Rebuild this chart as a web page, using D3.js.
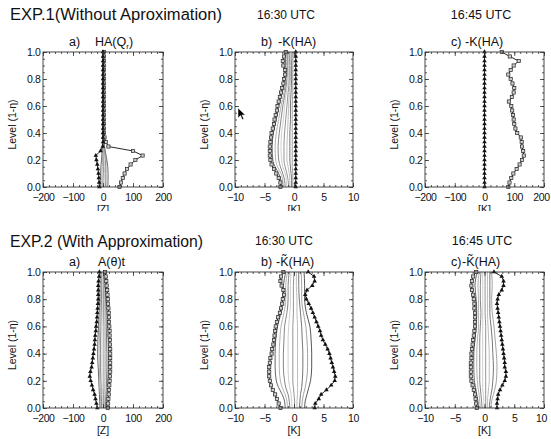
<!DOCTYPE html>
<html><head><meta charset="utf-8">
<script src="https://cdn.jsdelivr.net/npm/d3@7"></script>
<style>
body{margin:0;background:#fff}
svg{display:block}
text{font-family:"Liberation Sans",Arial,sans-serif;fill:#111}
</style>
</head><body>
<svg id="c" width="551" height="439"></svg>
<script>
// ---------- data ----------
const levels = [0.000,0.033,0.067,0.100,0.133,0.167,0.200,0.233,0.267,0.300,0.333,0.367,0.400,0.433,0.467,0.500,0.533,0.567,0.600,0.633,0.667,0.700,0.733,0.767,0.800,0.833,0.867,0.900,0.933,0.967,1.000];
const grayLevels = [0,0.05,0.1,0.15,0.2,0.3,0.4,0.5,0.6,0.7,0.8,0.9,1.0];
const yTicks = [0,0.2,0.4,0.6,0.8,1.0];
const xTicksZ = [-200,-100,0,100,200];
const xTicksK = [-10,-5,0,5,10];

// EXP.1 a) HA(Qr)
const a1Squares = [55,60,66,72,80,92,108,132,100,18,10,5,3,3,3,3,3,3,3,3,3,3,3,3,3,3,3,3,3,3,3];
const a1Triangles = [-12,-13,-14,-15,-17,-19,-22,-24,-8,-1,0,0,0,0,0,0,0,0,0,0,0,0,0,0,0,0,0,0,0,0,0];
const a1Gray = [
  [-8,-8,-8,-7,-5,-2,0,0,0,0,0,0,0],
  [-4,-4,-4,-3,-2,0,0,0,0,0,0,0,0],
  [0,0,1,1,1,1,0,0,0,0,0,0,0],
  [4,4,5,5,4,2,0,0,0,0,0,0,0],
  [8,9,9,9,8,3,1,0,0,0,0,0,0],
  [12,13,13,13,11,4,1,0,0,0,0,0,0],
  [16,17,17,16,13,5,1,0,0,0,0,0,0]
];
// EXP.1 b) -K(HA) 16:30
const b1Squares = [-2.3,-2.3,-2.6,-3.0,-3.4,-3.8,-4.0,-4.1,-4.1,-4.1,-4.0,-3.9,-3.8,-3.6,-3.4,-3.3,-3.1,-2.9,-2.8,-2.6,-2.4,-2.2,-2.0,-1.8,-1.7,-1.5,-1.5,-1.8,-1.9,-1.7,-1.4];
const b1Triangles = [0.3,0.3,0.3,0.3,0.3,0.3,0.3,0.3,0.3,0.3,0.3,0.3,0.3,0.3,0.3,0.3,0.3,0.3,0.3,0.3,0.3,0.3,0.3,0.3,0.3,0.3,0.3,0.3,0.3,0.3,0.3];
const b1Gray = [
  [-2.1,-2.2,-2.6,-3.2,-3.6,-3.7,-3.5,-3.0,-2.6,-2.0,-1.6,-1.5,-1.3],
  [-1.8,-1.9,-2.2,-2.8,-3.1,-3.2,-3.0,-2.6,-2.2,-1.7,-1.4,-1.3,-1.1],
  [-1.5,-1.6,-1.9,-2.3,-2.6,-2.7,-2.5,-2.2,-1.9,-1.5,-1.2,-1.1,-1.0],
  [-1.2,-1.3,-1.5,-1.9,-2.1,-2.2,-2.1,-1.8,-1.6,-1.3,-1.0,-1.0,-0.8],
  [-0.9,-1.0,-1.2,-1.5,-1.7,-1.7,-1.6,-1.4,-1.2,-1.0,-0.8,-0.8,-0.7],
  [-0.7,-0.7,-0.8,-1.0,-1.2,-1.2,-1.1,-1.0,-0.9,-0.8,-0.6,-0.6,-0.5],
  [-0.4,-0.4,-0.5,-0.6,-0.7,-0.7,-0.7,-0.6,-0.6,-0.5,-0.4,-0.4,-0.3],
  [-0.2,-0.2,-0.2,-0.3,-0.3,-0.3,-0.3,-0.3,-0.3,-0.2,-0.2,-0.2,-0.1]
];
// EXP.1 c) -K(HA) 16:45
const c1Squares = [80,84,90,97,108,118,126,132,130,126,125,122,110,104,100,98,96,93,90,82,92,98,100,94,88,80,88,98,115,85,58];
const c1Triangles = [0,0,0,0,0,0,0,0,0,0,0,0,0,0,0,0,0,0,0,0,0,0,0,0,0,0,0,0,0,0,0];
const c1Gray = [];
// EXP.2 a) A(theta)t
const a2Squares = [16,17,18,19,20,21,22,23,24,24,24,24,24,24,23,23,22,22,21,20,20,19,18,17,16,15,14,12,11,9,7];
const a2Triangles = [-19,-22,-25,-28,-33,-37,-41,-44,-42,-38,-36,-34,-32,-30,-28,-27,-26,-24,-23,-21,-20,-19,-18,-17,-16,-16,-16,-16,-15,-13,-12];
const a2Gray = [
  [-10,-11,-12,-13,-14,-16,-18,-17,-15,-13,-11,-10,-9],
  [-7,-8,-9,-10,-11,-12,-13,-12,-11,-10,-8,-7,-7],
  [-4,-5,-6,-6,-7,-8,-8,-8,-7,-6,-5,-4,-4],
  [-1,-2,-2,-2,-3,-3,-3,-3,-3,-2,-2,-1,-1],
  [2,2,2,3,3,3,3,3,3,2,2,2,2],
  [5,5,6,6,7,8,8,8,7,6,5,5,5],
  [8,9,10,11,12,13,13,12,11,10,9,8,8],
  [11,12,13,14,15,17,18,17,15,13,12,11,10]
];
// EXP.2 b) -K~(HA) 16:30
const b2Squares = [-2.3,-2.6,-2.9,-3.2,-3.6,-3.9,-4.1,-4.2,-4.2,-4.2,-4.1,-4.0,-3.8,-3.7,-3.5,-3.4,-3.3,-3.2,-3.1,-2.9,-2.7,-2.4,-2.2,-2.0,-1.9,-1.7,-1.8,-2.1,-2.3,-2.2,-1.8];
const b2Triangles = [3.5,3.6,4.2,4.6,5.5,6.3,6.9,7.0,6.8,6.6,6.4,6.2,6.0,5.7,5.3,4.9,4.6,4.4,4.1,3.8,3.5,3.2,2.9,2.5,2.1,1.9,2.2,3.1,3.5,3.4,2.4];
const b2Gray = [
  [-1.5,-1.6,-2.0,-2.6,-3.0,-3.2,-3.2,-3.1,-2.8,-2.2,-1.9,-1.8,-1.4],
  [-1.1,-1.2,-1.5,-2.0,-2.3,-2.5,-2.5,-2.4,-2.2,-1.7,-1.4,-1.4,-1.1],
  [-0.7,-0.8,-1.0,-1.4,-1.6,-1.8,-1.8,-1.7,-1.6,-1.2,-1.0,-1.0,-0.8],
  [-0.3,-0.4,-0.5,-0.7,-0.9,-1.0,-1.0,-1.0,-0.9,-0.7,-0.6,-0.6,-0.5],
  [0.1,0.1,0.0,-0.1,-0.2,-0.2,-0.2,-0.2,-0.2,-0.1,-0.1,-0.1,0.0],
  [0.5,0.5,0.6,0.6,0.6,0.6,0.6,0.6,0.6,0.5,0.5,0.4,0.4],
  [0.9,1.0,1.1,1.3,1.4,1.5,1.5,1.4,1.3,1.1,0.9,0.8,0.8],
  [1.3,1.4,1.6,1.9,2.1,2.3,2.3,2.2,2.0,1.6,1.3,1.3,1.2],
  [1.8,1.9,2.2,2.5,2.8,3.0,3.0,2.9,2.7,2.1,1.8,1.8,1.7]
];
// EXP.2 c) -K~(HA) 16:45
const c2Squares = [-1.3,-1.4,-1.5,-1.6,-1.8,-2.0,-2.2,-2.3,-2.3,-2.3,-2.3,-2.2,-2.2,-2.1,-2.0,-1.9,-1.8,-1.7,-1.6,-1.6,-1.6,-1.6,-1.7,-1.7,-1.8,-1.9,-2.1,-2.2,-2.1,-1.9,-1.4];
const c2Triangles = [2.1,2.1,2.2,2.3,2.6,3.0,3.4,3.6,3.6,3.4,3.4,3.3,3.2,3.1,3.0,2.9,2.8,2.7,2.6,2.5,2.4,2.3,2.2,2.1,2.2,2.4,2.9,3.2,3.2,2.9,1.6];
const c2Gray = [
  [-1.0,-1.1,-1.3,-1.5,-1.7,-1.8,-1.8,-1.6,-1.4,-1.3,-1.4,-1.6,-1.2],
  [-0.7,-0.8,-0.9,-1.1,-1.2,-1.3,-1.3,-1.2,-1.0,-1.0,-1.0,-1.1,-0.9],
  [-0.4,-0.5,-0.6,-0.7,-0.8,-0.8,-0.8,-0.8,-0.7,-0.6,-0.7,-0.7,-0.6],
  [-0.1,-0.1,-0.2,-0.3,-0.3,-0.3,-0.3,-0.3,-0.3,-0.3,-0.3,-0.3,-0.3],
  [0.2,0.2,0.2,0.2,0.2,0.2,0.2,0.2,0.2,0.1,0.1,0.1,0.1],
  [0.5,0.5,0.6,0.7,0.8,0.8,0.8,0.7,0.6,0.5,0.5,0.5,0.5],
  [0.8,0.9,1.1,1.3,1.4,1.5,1.4,1.3,1.1,0.9,0.9,0.9,0.9],
  [1.1,1.2,1.5,1.8,2.0,2.1,2.0,1.8,1.6,1.3,1.2,1.3,1.2]
];
const grayColors = ['#555','#aaa','#777','#c8c8c8','#888','#b5b5b5','#666','#999','#444'];

// ---------- layout ----------
const svg = d3.select('#c');
const cols = [[43,163],[235,353],[425,544]];
const rows = [[52,187],[272,408]];

const panels = [
  {c:0,r:0,dom:[-200,200],xt:xTicksZ,unit:'[Z]',lab:'a)',sq:a1Squares,tr:a1Triangles,gr:a1Gray},
  {c:1,r:0,dom:[-10,10],xt:xTicksK,unit:'[K]',lab:'b)',sq:b1Squares,tr:b1Triangles,gr:b1Gray},
  {c:2,r:0,dom:[-200,200],xt:xTicksZ,unit:'[K]',lab:'c)',sq:c1Squares,tr:c1Triangles,gr:c1Gray},
  {c:0,r:1,dom:[-200,200],xt:xTicksZ,unit:'[Z]',lab:'a)',sq:a2Squares,tr:a2Triangles,gr:a2Gray},
  {c:1,r:1,dom:[-10,10],xt:xTicksK,unit:'[K]',lab:'b)',sq:b2Squares,tr:b2Triangles,gr:b2Gray},
  {c:2,r:1,dom:[-10,10],xt:xTicksK,unit:'[K]',lab:'c)',sq:c2Squares,tr:c2Triangles,gr:c2Gray}
];

const defs = svg.append('defs');
const labelFont = '"Liberation Sans",Arial,sans-serif';

panels.forEach((p,pi) => {
  const [x0,x1] = cols[p.c], [y0,y1] = rows[p.r];
  const x = d3.scaleLinear().domain(p.dom).range([x0,x1]);
  const y = d3.scaleLinear().domain([0,1]).range([y1,y0]);
  const g = svg.append('g');
  defs.append('clipPath').attr('id','cp'+pi).append('rect')
    .attr('x',x0).attr('y',y0-3).attr('width',x1-x0).attr('height',y1-y0+6);
  const plot = g.append('g').attr('clip-path','url(#cp'+pi+')');

  const smooth = d3.line().x(d=>x(d[0])).y(d=>y(d[1])).curve(d3.curveMonotoneY);
  p.gr.forEach((vals,i) => {
    plot.append('path').attr('d', smooth(vals.map((v,j)=>[v,grayLevels[j]])))
      .attr('fill','none').attr('stroke',grayColors[i%grayColors.length]).attr('stroke-width',0.9);
  });
  const straight = d3.line().x(d=>x(d[0])).y(d=>y(d[1]));
  const sqPts = p.sq.map((v,j)=>[v,levels[j]]);
  const trPts = p.tr.map((v,j)=>[v,levels[j]]);
  plot.append('path').attr('d',straight(sqPts)).attr('fill','none').attr('stroke','#111').attr('stroke-width',0.9);
  plot.append('path').attr('d',straight(trPts)).attr('fill','none').attr('stroke','#111').attr('stroke-width',0.9);
  plot.selectAll('rect.sq').data(sqPts).enter().append('rect').attr('class','sq')
    .attr('x',d=>x(d[0])-1.6).attr('y',d=>y(d[1])-1.6).attr('width',3.2).attr('height',3.2)
    .attr('fill','#cfcfcf').attr('stroke','#222').attr('stroke-width',0.7);
  const tri = d3.symbol().type(d3.symbolTriangle).size(9);
  plot.selectAll('path.tr').data(trPts).enter().append('path').attr('class','tr')
    .attr('d',tri).attr('transform',d=>`translate(${x(d[0])},${y(d[1])})`).attr('fill','#111');

  // axes (IDL style: inward ticks on all sides)
  const xMinor = d3.range(p.dom[0], p.dom[1]+1e-9, (p.dom[1]-p.dom[0])/20);
  const yMinor = d3.range(0, 1.0001, 0.05);
  const axStyle = sel => { sel.selectAll('path.domain').remove(); sel.selectAll('line').attr('stroke','#333').attr('stroke-width',0.8); };
  const bottom = g.append('g').attr('transform',`translate(0,${y1})`)
    .call(d3.axisBottom(x).tickValues(p.xt).tickSizeInner(-4).tickSizeOuter(0).tickPadding(6.5).tickFormat(d3.format('d')))
    .call(axStyle)
    .call(s=>s.selectAll('text').attr('font-size',10.5).attr('letter-spacing',-0.4).attr('fill','#111').attr('font-family',labelFont));
  // keep the rightmost label of the right-hand column inside the window
  if (p.c === 2) bottom.selectAll('.tick').filter(d=>d===p.xt[p.xt.length-1]).select('text').attr('x',-3);
  g.append('g').attr('transform',`translate(0,${y1})`)
    .call(d3.axisBottom(x).tickValues(xMinor).tickSizeInner(-2).tickSizeOuter(0).tickFormat('')).call(axStyle);
  g.append('g').attr('transform',`translate(0,${y0})`)
    .call(d3.axisTop(x).tickValues(p.xt).tickSizeInner(-4).tickSizeOuter(0).tickFormat('')).call(axStyle);
  g.append('g').attr('transform',`translate(0,${y0})`)
    .call(d3.axisTop(x).tickValues(xMinor).tickSizeInner(-2).tickSizeOuter(0).tickFormat('')).call(axStyle);
  g.append('g').attr('transform',`translate(${x0},0)`)
    .call(d3.axisLeft(y).tickValues(yTicks).tickSizeInner(-4).tickSizeOuter(0).tickPadding(2.5).tickFormat(d3.format('.1f')))
    .call(axStyle)
    .call(s=>s.selectAll('text').attr('font-size',10.5).attr('letter-spacing',-0.4).attr('fill','#111').attr('font-family',labelFont));
  g.append('g').attr('transform',`translate(${x0},0)`)
    .call(d3.axisLeft(y).tickValues(yMinor).tickSizeInner(-2).tickSizeOuter(0).tickFormat('')).call(axStyle);
  g.append('g').attr('transform',`translate(${x1},0)`)
    .call(d3.axisRight(y).tickValues(yTicks).tickSizeInner(-4).tickSizeOuter(0).tickFormat('')).call(axStyle);
  g.append('g').attr('transform',`translate(${x1},0)`)
    .call(d3.axisRight(y).tickValues(yMinor).tickSizeInner(-2).tickSizeOuter(0).tickFormat('')).call(axStyle);
  g.append('rect').attr('x',x0).attr('y',y0).attr('width',x1-x0).attr('height',y1-y0)
    .attr('fill','none').attr('stroke','#333').attr('stroke-width',0.9);

  // y title
  const yc = (y0+y1)/2 + 5, xc = x0 - 27;
  g.append('text').attr('transform',`translate(${xc},${yc}) rotate(-90)`).attr('text-anchor','middle')
    .attr('font-size',10.5).text('Level (1-\u03B7)');
  // x unit
  g.append('text').attr('x',(x0+x1)/2).attr('y',y1+26).attr('text-anchor','middle').attr('font-size',10.5).text(p.unit);
  // panel letter
  g.append('text').attr('x',x0+26).attr('y',y0-6).attr('font-size',12.5).text(p.lab);
});

// cut-off of the upper figure (x-unit labels are clipped in the source image)
svg.append('rect').attr('x',0).attr('y',211).attr('width',551).attr('height',14).attr('fill','#fff');

// panel titles
const t = (x,y,s,size) => svg.append('text').attr('x',x).attr('y',y).attr('font-size',size).text(s);
const ha = svg.append('text').attr('x',95).attr('y',46).attr('font-size',12.5);
ha.append('tspan').text('HA(Q');
ha.append('tspan').attr('font-size',8).attr('dy',3).text('r');
ha.append('tspan').attr('dy',-3).text(')');
t(278,46,'-K(HA)',12.5);
t(465,46,'-K(HA)',12.5);
t(98,266,'A(\u03B8)t',12.5);
t(276,266,'-K\u0303(HA)',12.5);
t(462,266,'-K\u0303(HA)',12.5);

// headers
const hdrFont = '"DejaVu Sans",sans-serif';
const h = (x,y,s,size,len) => svg.append('text').attr('x',x).attr('y',y).attr('font-size',size)
  .attr('font-family',hdrFont).attr('fill','#222')
  .attr('textLength',len).attr('lengthAdjust','spacingAndGlyphs').text(s);
const hc = (x,y,s,size) => svg.append('text').attr('x',x).attr('y',y).attr('font-size',size)
  .attr('font-family',hdrFont).attr('fill','#222').attr('text-anchor','middle').text(s);
h(10,20,'EXP.1(Without Aproximation)',16,212);
hc(286,19,'16:30 UTC',12);
hc(481,19,'16:45 UTC',12.5);
h(10,247,'EXP.2 (With Approximation)',16,193);
hc(284,245,'16:30 UTC',12);
hc(482,245,'16:45 UTC',12.5);

// mouse cursor captured in the screenshot
svg.append('path').attr('d','M238,108 L238,118 L240.5,115.6 L242.3,119.6 L243.8,118.9 L242,115 L245.3,115 Z')
  .attr('fill','#000').attr('stroke','#fff').attr('stroke-width',0.5);
</script>
</body></html>
